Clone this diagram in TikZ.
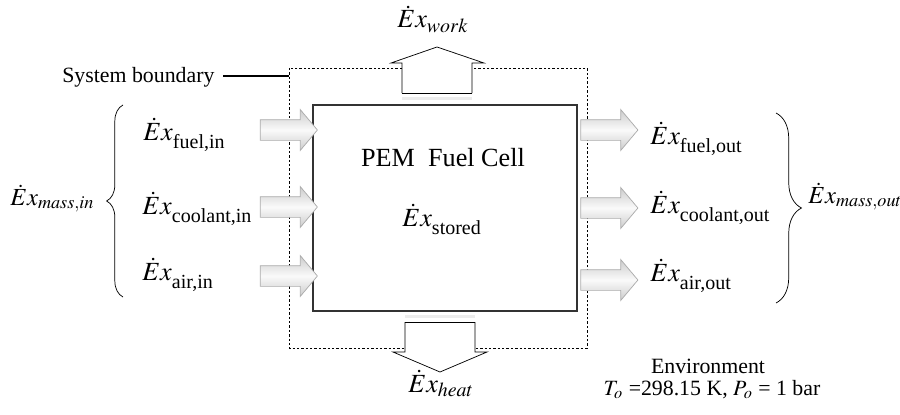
\documentclass[tikz,border=0pt,12pt]{standalone}
\usepackage{mathptmx}
\usepackage{fontspec}
\setmainfont{Liberation Serif}
\usepackage{tikz}
\usetikzlibrary{shapes.arrows,decorations.pathreplacing}

\newcommand{\exsub}[1]{$\dot{E}x$\raisebox{-4.5pt}{\fontsize{11}{13}\selectfont #1}}

\begin{document}
\begin{tikzpicture}[x=0.55pt, y=-0.55pt,
    flow/.style={single arrow, draw=gray!65, shading=axis, top color=gray!40,
      bottom color=gray!40, middle color=gray!4, inner xsep=0pt, inner ysep=5.5pt,
      minimum height=31.4pt, single arrow head extend=5.5pt,
      single arrow tip angle=100},
    hollow/.style={draw=black, fill=white, line join=miter},
    exlabel/.style={anchor=base west, inner sep=0pt, font=\large},
    masslabel/.style={anchor=base west, inner sep=0pt, font=\fontsize{13.5}{16}\selectfont},
    brace/.style={decorate, decoration={brace, amplitude=#1}, thin}]
  \useasboundingbox (0,0) rectangle (900,414);

  \draw[gray!40!black, semithick] (313,105) rectangle (577,311);
  \draw[dash pattern=on 1.3pt off 1.1pt, thin] (289,68) rectangle (587,348);

  \draw[hollow] (402,93) -- (402,63) -- (391,63) -- (437,47) -- (484,63) -- (472,63) -- (472,93);
  \draw (402,93) -- (472,93);
  \draw[gray, double=gray!15, double distance=1.2pt] (402,98.5) -- (472,98.5);
  \draw[hollow] (405,322) -- (405,352) -- (393,352) -- (440,372) -- (487,352) -- (475,352) -- (475,322);
  \draw (405,322) -- (475,322);
  \draw[gray, double=gray!15, double distance=1.2pt] (405,316.5) -- (475,316.5);

  \node (fuelin) [flow] at (284.5,130) {};
  \node (coolin) [flow] at (284.5,207) {};
  \node (airin) [flow] at (284.5,276) {};
  \node (fuelout) [flow] at (605,130) {};
  \node (coolout) [flow] at (605,208) {};
  \node (airout) [flow] at (605,280) {};

  \node (cell) [anchor=base, inner sep=0pt, font=\large] at (443,166) {PEM\ \ Fuel Cell};
  \node (stored) [exlabel] at (402,226) {\exsub{stored}};
  \node (work) [exlabel] at (397,28) {$\dot{E}x_{work}$};
  \node (heat) [exlabel] at (408,392) {$\dot{E}x_{heat}$};

  \node (lfuelin) [exlabel] at (143,140) {\exsub{fuel,in}};
  \node (lcoolin) [exlabel] at (142,214) {\exsub{coolant,in}};
  \node (lairin) [exlabel] at (142,280) {\exsub{air,in}};
  \node (lfuelout) [exlabel] at (650,144) {\exsub{fuel,out}};
  \node (lcoolout) [exlabel] at (650,213) {\exsub{coolant,out}};
  \node (lairout) [exlabel] at (650,281) {\exsub{air,out}};

  \node (massin) [masslabel] at (10,205) {$\dot{E}x_{mass,in}$};
  \node (massout) [masslabel] at (808,203) {$\dot{E}x_{mass,out}$};
  \coordinate (bin1) at (123,297);
  \coordinate (bin2) at (123,105);
  \coordinate (bout1) at (776,113);
  \coordinate (bout2) at (776,303);
  \draw[brace=9pt] (bin1) -- (bin2);
  \draw[brace=14pt] (bout1) -- (bout2);

  \node (sysb) [anchor=base west, inner sep=0pt] at (62,83) {System boundary};
  \coordinate (sysend) at (289,76);
  \draw[thick] (223,76) -- (sysend);

  \node (env) [anchor=base, inner sep=0pt] at (708,373) {Environment};
  \node (envval) [anchor=base, inner sep=0pt] at (712,395) {$T_o$ =298.15 K, $P_o$ = 1 bar};
\end{tikzpicture}
\end{document}
